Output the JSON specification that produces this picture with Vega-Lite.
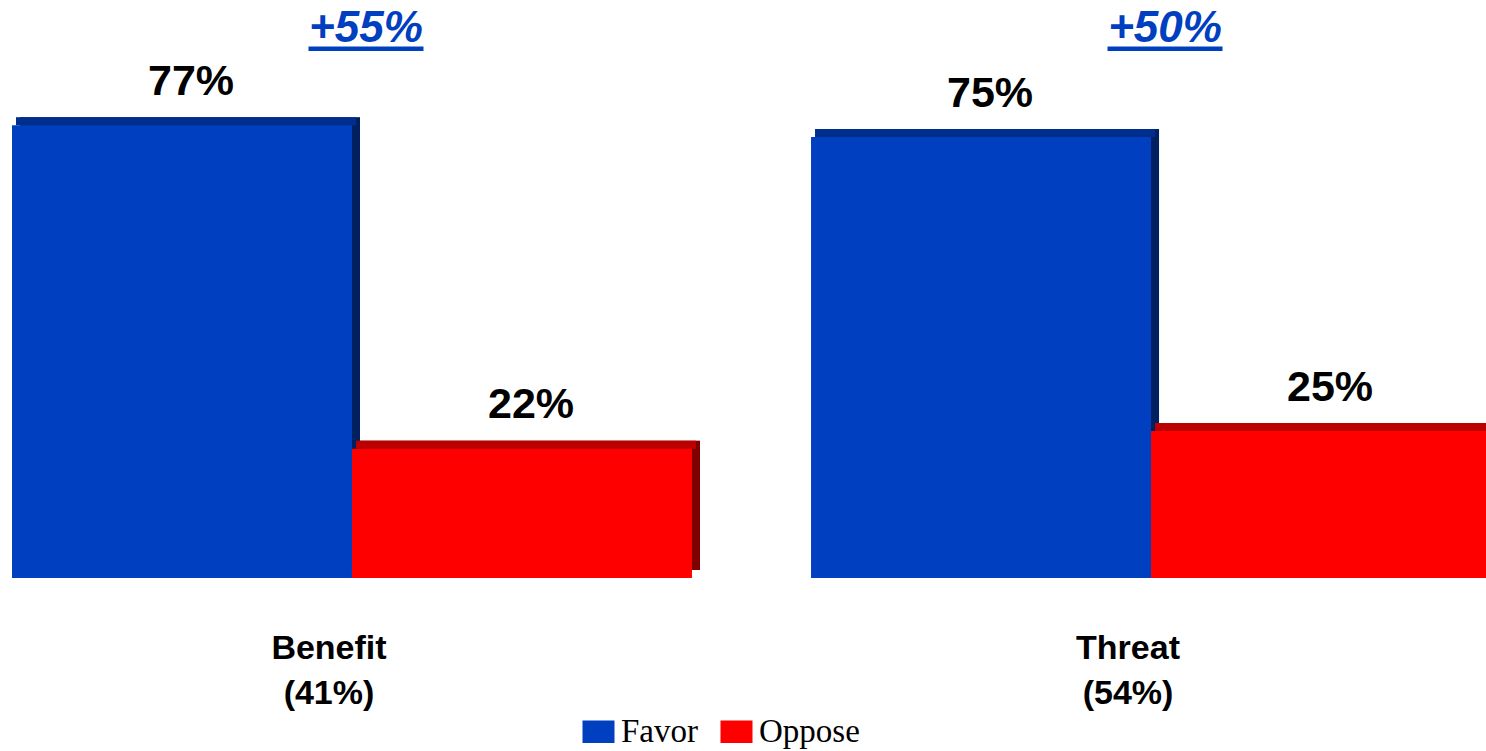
{
  "$schema": "https://vega.github.io/schema/vega-lite/v6.json",
  "width": 1486,
  "height": 578,
  "autosize": "none",
  "padding": {"left": 0, "top": 0, "right": 0, "bottom": 173},
  "background": "white",
  "config": {"view": {"stroke": null}},
  "datasets": {
    "bars": [
      {"Group": "Benefit (41%)", "Series": "Favor", "Value": 77, "Label": "77%"},
      {"Group": "Benefit (41%)", "Series": "Oppose", "Value": 22, "Label": "22%"},
      {"Group": "Threat (54%)", "Series": "Favor", "Value": 75, "Label": "75%"},
      {"Group": "Threat (54%)", "Series": "Oppose", "Value": 25, "Label": "25%"}
    ],
    "diffs": [
      {"Group": "Benefit (41%)", "Diff": "+55%"},
      {"Group": "Threat (54%)", "Diff": "+50%"}
    ]
  },
  "data": {"name": "bars"},
  "encoding": {
    "x": {
      "field": "Group",
      "type": "nominal",
      "sort": null,
      "scale": {"range": [12, 1491], "paddingInner": 0.149, "paddingOuter": 0},
      "axis": {
        "title": null,
        "domain": false,
        "ticks": false,
        "tickSize": 0,
        "labelAngle": 0,
        "labelFont": "Liberation Sans",
        "labelFontWeight": "bold",
        "labelFontSize": 34,
        "labelColor": "black",
        "labelPadding": 53,
        "labelLineHeight": 45,
        "labelOffset": -23,
        "labelExpr": "split(datum.label, ' ')"
      }
    }
  },
  "resolve": {"scale": {"xOffset": "independent"}},
  "layer": [
    {
      "mark": {"type": "bar", "y2Offset": -8},
      "encoding": {
        "xOffset": {"field": "Series", "type": "nominal", "sort": ["Favor", "Oppose"], "scale": {"range": [8, 688], "paddingInner": 0, "paddingOuter": 0}},
        "y": {"field": "Value", "type": "quantitative", "stack": null, "scale": {"domain": [0, 98.3], "nice": false}, "axis": null},
        "y2": {"datum": 0},
        "yOffset": {"value": -8},
        "color": {
          "field": "Series", "type": "nominal",
          "scale": {"domain": ["Favor", "Oppose"], "range": ["#0040C0", "#FF0000"]},
          "legend": {
            "title": null, "orient": "none", "legendX": 582, "legendY": 715, "direction": "horizontal",
            "symbolType": "M-1,-0.7L1,-0.7L1,0.7L-1,0.7Z", "symbolSize": 1024, "symbolStrokeWidth": 0, "symbolOpacity": 1,
            "labelFont": "Liberation Serif", "labelFontSize": 33, "labelColor": "black", "labelOffset": 6,
            "columnPadding": 22, "padding": 0
          }
        }
      }
    },
    {
      "mark": {"type": "bar", "y2Offset": -8, "color": "black", "opacity": 0.5},
      "encoding": {
        "xOffset": {"field": "Series", "type": "nominal", "sort": ["Favor", "Oppose"], "scale": {"range": [8, 688], "paddingInner": 0, "paddingOuter": 0}},
        "y": {"field": "Value", "type": "quantitative", "stack": null},
        "y2": {"datum": 0},
        "yOffset": {"value": -8}
      }
    },
    {
      "mark": {"type": "bar"},
      "encoding": {
        "xOffset": {"field": "Series", "type": "nominal", "sort": ["Favor", "Oppose"], "scale": {"range": [4, 684], "paddingInner": 0, "paddingOuter": 0}},
        "y": {"field": "Value", "type": "quantitative", "stack": null},
        "y2": {"field": "Value"},
        "yOffset": {"value": -8},
        "color": {
          "field": "Series", "type": "nominal",
          "scale": {"domain": ["Favor", "Oppose"], "range": ["#0040C0", "#FF0000"]},
          "legend": {
            "title": null, "orient": "none", "legendX": 582, "legendY": 715, "direction": "horizontal",
            "symbolType": "M-1,-0.7L1,-0.7L1,0.7L-1,0.7Z", "symbolSize": 1024, "symbolStrokeWidth": 0, "symbolOpacity": 1,
            "labelFont": "Liberation Serif", "labelFontSize": 33, "labelColor": "black", "labelOffset": 6,
            "columnPadding": 22, "padding": 0
          }
        }
      }
    },
    {
      "mark": {"type": "bar", "color": "black", "opacity": 0.27},
      "encoding": {
        "xOffset": {"field": "Series", "type": "nominal", "sort": ["Favor", "Oppose"], "scale": {"range": [4, 684], "paddingInner": 0, "paddingOuter": 0}},
        "y": {"field": "Value", "type": "quantitative", "stack": null},
        "y2": {"field": "Value"},
        "yOffset": {"value": -8}
      }
    },
    {
      "mark": {"type": "bar"},
      "encoding": {
        "xOffset": {"field": "Series", "type": "nominal", "sort": ["Favor", "Oppose"], "scale": {"paddingInner": 0, "paddingOuter": 0}},
        "y": {"field": "Value", "type": "quantitative", "stack": null},
        "y2": {"datum": 0},
        "color": {
          "field": "Series", "type": "nominal",
          "scale": {"domain": ["Favor", "Oppose"], "range": ["#0040C0", "#FF0000"]},
          "legend": {
            "title": null, "orient": "none", "legendX": 582, "legendY": 715, "direction": "horizontal",
            "symbolType": "M-1,-0.7L1,-0.7L1,0.7L-1,0.7Z", "symbolSize": 1024, "symbolStrokeWidth": 0, "symbolOpacity": 1,
            "labelFont": "Liberation Serif", "labelFontSize": 33, "labelColor": "black", "labelOffset": 6,
            "columnPadding": 22, "padding": 0
          }
        }
      }
    },
    {
      "mark": {"type": "text", "font": "Liberation Sans", "fontWeight": "bold", "fontSize": 43, "color": "black", "baseline": "alphabetic", "align": "center", "dx": 9, "dy": -30.5},
      "encoding": {
        "xOffset": {"field": "Series", "type": "nominal", "sort": ["Favor", "Oppose"], "scale": {"type": "point", "range": [170, 510], "padding": 0}},
        "y": {"field": "Value", "type": "quantitative", "stack": null},
        "text": {"field": "Label"}
      }
    },
    {
      "data": {"name": "diffs"},
      "layer": [
        {
          "mark": {"type": "tick", "orient": "horizontal", "size": 115, "thickness": 4.5, "color": "#0040C0", "opacity": 1, "xOffset": 14},
          "encoding": {"y": {"datum": 90, "type": "quantitative"}}
        },
        {
          "mark": {"type": "text", "font": "Liberation Sans", "fontWeight": "bold", "fontStyle": "italic", "fontSize": 44, "color": "#0040C0", "baseline": "alphabetic", "align": "center", "dx": 14, "dy": -6.5},
          "encoding": {"y": {"datum": 90, "type": "quantitative"}, "text": {"field": "Diff"}}
        }
      ]
    }
  ]
}
